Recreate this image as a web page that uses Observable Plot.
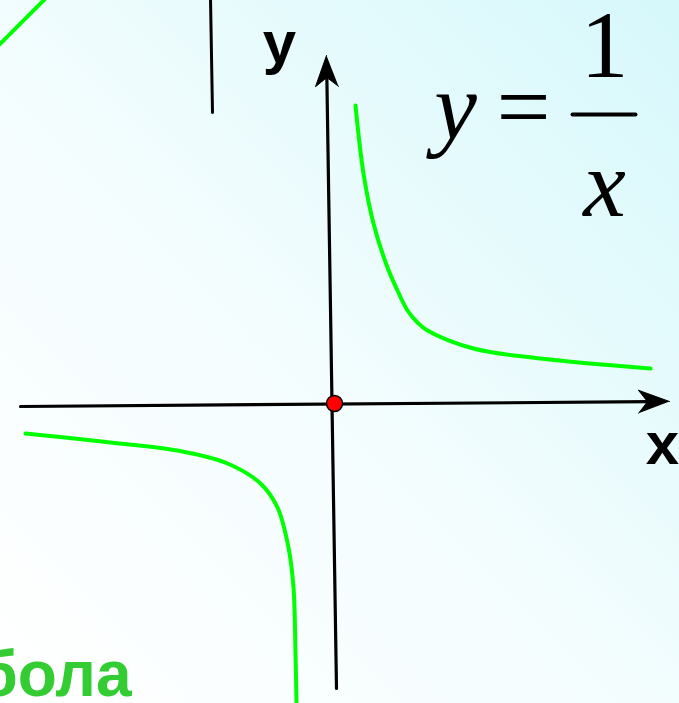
<!DOCTYPE html>
<html>
<head>
<meta charset="utf-8">
<script src="https://cdn.jsdelivr.net/npm/d3@7"></script>
<script src="https://cdn.jsdelivr.net/npm/@observablehq/plot@0.6"></script>
<style>
  html, body { margin: 0; padding: 0; }
  body { width: 679px; height: 703px; overflow: hidden;
         background: linear-gradient(45deg, #ffffff 0%, #f4fdfe 45%, #d6f8fb 100%); }
  #chart svg { display: block; }
</style>
</head>
<body>
<div id="chart"></div>
<script>
// Right branch of the hyperbola (x > 0)
const rightX = [0.21, 0.29, 0.39, 0.53, 0.63, 0.73, 0.83, 0.93, 1.39, 2.06, 3.16];
const rightY = [2.98, 2.30, 1.80, 1.36, 1.13, 0.93, 0.81, 0.73, 0.55, 0.45, 0.35];
// Left branch of the hyperbola (x < 0)
const leftX = [-3.09, -2.24, -1.57, -1.07, -0.74, -0.57, -0.46, -0.41, -0.39, -0.38];
const leftY = [-0.30, -0.39, -0.47, -0.60, -0.80, -1.04, -1.44, -1.84, -2.50, -2.99];
// Axes: [start, tip]
const xAxisX = [-3.14, 3.35];
const xAxisY = [-0.03, 0.02];
const yAxisX = [0.02, -0.08];
const yAxisY = [-2.85, 3.48];
// Decorative fragments of the slide
const greenSegX = [-3.36, -2.89];
const greenSegY = [3.58, 4.05];
const blackSegX = [-1.24, -1.22];
const blackSegY = [4.05, 2.91];
// Formula fraction bar
const barX = [2.38, 3.01];
const barY = [2.89, 2.89];
// Text labels
const labelText = ["y", "x", "бола"];
const labelX = [-0.55, 3.28, -2.03];
const labelY = [3.41, -0.60, -2.92];
// Formula y = 1/x: italic variables and upright symbols
const formulaVarText = ["y", "x"];
const formulaVarX = [1.21, 2.70];
const formulaVarY = [2.65, 1.88];
const formulaSymText = ["=", "1"];
const formulaSymX = [1.89, 2.70];
const formulaSymY = [2.65, 3.27];

const pts = (xs, ys) => xs.map((x, i) => ({x, y: ys[i]}));
const txt = (ts, xs, ys) => ts.map((t, i) => ({t, x: xs[i], y: ys[i]}));

function arrowHead(xs, ys, L, W, N) {
  const tx = xs[1], ty = ys[1];
  let dx = xs[1] - xs[0], dy = ys[1] - ys[0];
  const len = Math.hypot(dx, dy); dx /= len; dy /= len;
  const nx = -dy, ny = dx;
  return [
    {x: tx, y: ty},
    {x: tx - L * dx + W * nx, y: ty - L * dy + W * ny},
    {x: tx - (L - N) * dx, y: ty - (L - N) * dy},
    {x: tx - L * dx - W * nx, y: ty - L * dy - W * ny}
  ];
}
function shaft(xs, ys, back) {
  let dx = xs[1] - xs[0], dy = ys[1] - ys[0];
  const len = Math.hypot(dx, dy);
  return [{x: xs[0], y: ys[0]}, {x: xs[1] - back * dx / len, y: ys[1] - back * dy / len}];
}

const labels = txt(labelText, labelX, labelY);

const plot = Plot.plot({
  width: 679,
  height: 703,
  margin: 0,
  x: {domain: [-3.34, 3.45], axis: null},
  y: {domain: [-3.00, 4.03], axis: null},
  style: {background: "transparent", overflow: "hidden"},
  marks: [
    Plot.line(pts(greenSegX, greenSegY), {x: "x", y: "y", stroke: "#00ff00", strokeWidth: 4}),
    Plot.line(pts(blackSegX, blackSegY), {x: "x", y: "y", stroke: "#000", strokeWidth: 3}),
    Plot.line(pts(rightX, rightY), {x: "x", y: "y", stroke: "#00ff00", strokeWidth: 4, curve: "catmull-rom"}),
    Plot.line(pts(leftX, leftY), {x: "x", y: "y", stroke: "#00ff00", strokeWidth: 4, curve: "catmull-rom"}),
    Plot.line(shaft(xAxisX, xAxisY, 0.2), {x: "x", y: "y", stroke: "#000", strokeWidth: 3.2}),
    Plot.line(shaft(yAxisX, yAxisY, 0.2), {x: "x", y: "y", stroke: "#000", strokeWidth: 3.2}),
    Plot.line(arrowHead(xAxisX, xAxisY, 0.31, 0.115, 0.09), {x: "x", y: "y", fill: "#000", stroke: "#000", strokeWidth: 1}),
    Plot.line(arrowHead(yAxisX, yAxisY, 0.31, 0.115, 0.09), {x: "x", y: "y", fill: "#000", stroke: "#000", strokeWidth: 1}),
    Plot.dot([{x: 0, y: 0}], {x: "x", y: "y", r: 8, fill: "#ff0000", stroke: "#000", strokeWidth: 1.5}),
    Plot.line(pts(barX, barY), {x: "x", y: "y", stroke: "#000", strokeWidth: 4}),
    Plot.text(labels.slice(0, 2), {x: "x", y: "y", text: "t", lineAnchor: "bottom", textAnchor: "middle",
      fontFamily: "Liberation Sans, Arial, sans-serif", fontWeight: "bold", fontSize: 60, fill: "#000"}),
    Plot.text(labels.slice(2), {x: "x", y: "y", text: "t", lineAnchor: "bottom", textAnchor: "end",
      fontFamily: "Liberation Sans, Arial, sans-serif", fontWeight: "bold", fontSize: 64, fill: "#33cc33"}),
    Plot.text(txt(formulaVarText, formulaVarX, formulaVarY), {x: "x", y: "y", text: "t", lineAnchor: "bottom", textAnchor: "middle",
      fontFamily: "Liberation Serif, Times New Roman, serif", fontSize: 96, fontStyle: "italic", fill: "#000"}),
    Plot.text(txt(formulaSymText, formulaSymX, formulaSymY), {x: "x", y: "y", text: "t", lineAnchor: "bottom", textAnchor: "middle",
      fontFamily: "Liberation Serif, Times New Roman, serif", fontSize: 96, fill: "#000"})
  ]
});
document.getElementById("chart").appendChild(plot);
</script>
</body>
</html>
